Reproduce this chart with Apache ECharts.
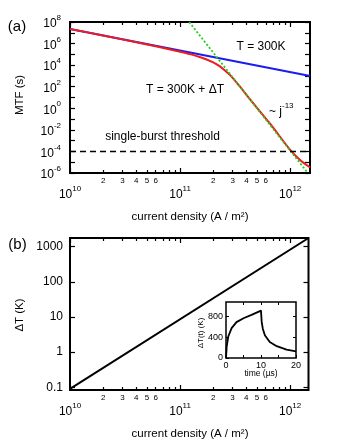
<!DOCTYPE html>
<html>
<head>
<meta charset="utf-8">
<script src="https://cdn.jsdelivr.net/npm/echarts@6/dist/echarts.min.js"></script>
<style>
html, body { margin: 0; padding: 0; background: #fff; }
#chart { width: 345px; height: 445px; }
</style>
</head>
<body>
<div id="chart"></div>
<script>
// (a) MTF vs current density
const jBlue = [1e10, 1.52e12];
const mtfBlue = [2.29e7, 1.0e3];

const jRed = [1e10, 2e10, 4e10, 6.3e10, 1e11, 1.26e11, 1.58e11, 2e11, 2.3e11, 2.55e11, 2.85e11, 3.5e11, 4.3e11, 6.6e11, 1e12, 1.23e12, 1.52e12];
const mtfRed = [2.29e7, 5.6e6, 1.32e6, 5.0e5, 1.78e5, 1.0e5, 4.8e4, 1.8e4, 7.6e3, 3.2e3, 1.2e3, 1.0e2, 7.1, 3.5e-2, 1.4e-4, 1.6e-5, 3.2e-6];

const jGreen = [1.21e11, 1.445e12];
const mtfGreen = [1e8, 1e-6];

const jThreshold = [1e10, 1.52e12];
const mtfThreshold = [1e-4, 1e-4];

// (b) temperature rise vs current density
const jDT = [1e10, 1.47e12];
const dT = [0.09, 1770];

// inset: temperature during a 10 us pulse
const tInset = [0, 0.2, 0.65, 1.6, 3, 5, 7.3, 10, 10.05, 10.2, 10.5, 11.1, 12.5, 14.5, 17.3, 20];
const dTInset = [0, 220, 410, 570, 685, 760, 825, 905, 850, 690, 565, 435, 305, 225, 160, 128];

// tick labels
const xDecades = [10, 11, 12];
const minorSteps = [2, 3, 4, 5, 6, 7, 8, 9];
const minorLabelled = [2, 3, 4, 5, 6];
const mtfDecades = [-6, -5, -4, -3, -2, -1, 0, 1, 2, 3, 4, 5, 6, 7, 8];
const mtfLabelled = [-6, -4, -2, 0, 2, 4, 6, 8];
const dTLabels = ['0.1', '1', '10', '100', '1000'];
const insetTimeLabels = [0, 10, 20];

const FONT = '"Liberation Sans", Arial, Helvetica, sans-serif';
const lg = Math.log10;

function pairs(xs, ys, fx, fy) {
    return xs.map(function (x, i) { return [fx(x), fy(ys[i])]; });
}
const same = function (v) { return v; };

const minorTicks = [];
const minorLabels = [];
[1e10, 1e11].forEach(function (d) {
    minorSteps.forEach(function (m) { minorTicks.push(lg(m * d)); });
    minorLabelled.forEach(function (m) { minorLabels.push(lg(m * d)); });
});

const rich10 = {
    b: { fontSize: 12, fontFamily: FONT, color: '#000', lineHeight: 16, verticalAlign: 'bottom' },
    s: { fontSize: 8, fontFamily: FONT, color: '#000', lineHeight: 16, verticalAlign: 'top' }
};
function pow10(v) {
    return '{b|10}{s|' + Math.round(v) + '}';
}

const noLine = { show: false, onZero: false };

function xAxesFor(grid, max) {
    return [{
        gridIndex: grid, type: 'value', min: 10, max: max, position: 'bottom',
        axisLine: noLine, splitLine: { show: false },
        axisTick: { inside: true, length: 5, customValues: xDecades, lineStyle: { color: '#000', width: 1.2 } },
        axisLabel: { customValues: xDecades, margin: 12, formatter: pow10, rich: rich10 }
    }, {
        gridIndex: grid, type: 'value', min: 10, max: max, position: 'bottom',
        axisLine: noLine, splitLine: { show: false },
        axisTick: { inside: true, length: 3, customValues: minorTicks, lineStyle: { color: '#000', width: 1.2 } },
        axisLabel: {
            customValues: minorLabels, margin: 4, fontSize: 8, fontFamily: FONT, color: '#000',
            formatter: function (v) { return String(Math.round(Math.pow(10, v - Math.floor(v + 1e-9)))); }
        }
    }, {
        gridIndex: grid, type: 'value', min: 10, max: max, position: 'top',
        axisLine: noLine, splitLine: { show: false }, axisLabel: { show: false },
        axisTick: { inside: true, length: 5, customValues: xDecades, lineStyle: { color: '#000', width: 1.2 } }
    }, {
        gridIndex: grid, type: 'value', min: 10, max: max, position: 'top',
        axisLine: noLine, splitLine: { show: false }, axisLabel: { show: false },
        axisTick: { inside: true, length: 3, customValues: minorTicks, lineStyle: { color: '#000', width: 1.2 } }
    }];
}

const chart = echarts.init(document.getElementById('chart'), null, { renderer: 'canvas' });

const option = {
    animation: false,
    backgroundColor: '#fff',
    grid: [
        { left: 70, top: 22, width: 240, height: 151, show: true, borderColor: '#000', borderWidth: 2 },
        { left: 70, top: 238, width: 238.5, height: 152, show: true, borderColor: '#000', borderWidth: 2 },
        { left: 226, top: 302, width: 70, height: 56, show: true, borderColor: '#000', borderWidth: 1.5, backgroundColor: '#fff' }
    ],
    xAxis: xAxesFor(0, 12.18).concat(xAxesFor(1, 12.167)).concat([{
        gridIndex: 2, type: 'value', min: 0, max: 20, position: 'bottom',
        axisLine: noLine, splitLine: { show: false },
        axisTick: { inside: true, length: 3, customValues: [0, 5, 10, 15, 20], lineStyle: { color: '#000' } },
        axisLabel: { customValues: insetTimeLabels, margin: 3, fontSize: 9, fontFamily: FONT, color: '#000' }
    }, {
        gridIndex: 2, type: 'value', min: 0, max: 20, position: 'top',
        axisLine: noLine, splitLine: { show: false }, axisLabel: { show: false },
        axisTick: { inside: true, length: 3, customValues: [5, 10, 15], lineStyle: { color: '#000' } }
    }]),
    yAxis: [{
        gridIndex: 0, type: 'value', min: -6, max: 8, position: 'left',
        axisLine: noLine, splitLine: { show: false },
        axisTick: { inside: true, length: 5, customValues: mtfDecades, lineStyle: { color: '#000', width: 1.2 } },
        axisLabel: { customValues: mtfLabelled, margin: 9, formatter: pow10, rich: rich10 }
    }, {
        gridIndex: 0, type: 'value', min: -6, max: 8, position: 'right',
        axisLine: noLine, splitLine: { show: false }, axisLabel: { show: false },
        axisTick: { inside: true, length: 5, customValues: mtfDecades, lineStyle: { color: '#000', width: 1.2 } }
    }, {
        gridIndex: 1, type: 'value', min: lg(0.084), max: lg(1770), position: 'left',
        axisLine: noLine, splitLine: { show: false },
        axisTick: { inside: true, length: 5, customValues: [-1, 0, 1, 2, 3], lineStyle: { color: '#000', width: 1.2 } },
        axisLabel: {
            customValues: [-1, 0, 1, 2, 3], margin: 7, fontSize: 12, fontFamily: FONT, color: '#000',
            formatter: function (v) { return dTLabels[Math.round(v) + 1]; }
        }
    }, {
        gridIndex: 1, type: 'value', min: lg(0.084), max: lg(1770), position: 'right',
        axisLine: noLine, splitLine: { show: false }, axisLabel: { show: false },
        axisTick: { inside: true, length: 5, customValues: [-1, 0, 1, 2, 3], lineStyle: { color: '#000', width: 1.2 } }
    }, {
        gridIndex: 2, type: 'value', min: 0, max: 1070, position: 'left',
        axisLine: noLine, splitLine: { show: false },
        axisTick: { inside: true, length: 3, customValues: [0, 400, 800], lineStyle: { color: '#000' } },
        axisLabel: { customValues: [0, 400, 800], margin: 3, fontSize: 9, fontFamily: FONT, color: '#000' }
    }, {
        gridIndex: 2, type: 'value', min: 0, max: 1070, position: 'right',
        axisLine: noLine, splitLine: { show: false }, axisLabel: { show: false },
        axisTick: { inside: true, length: 3, customValues: [400, 800], lineStyle: { color: '#000' } }
    }],
    series: [{
        name: 'T = 300K', type: 'line', xAxisIndex: 0, yAxisIndex: 0, symbol: 'none',
        lineStyle: { color: '#1c1cf0', width: 2 },
        data: pairs(jBlue, mtfBlue, lg, lg)
    }, {
        name: 'T = 300K + dT', type: 'line', xAxisIndex: 0, yAxisIndex: 0, symbol: 'none', smooth: 0.3,
        lineStyle: { color: '#ee1c1c', width: 2 },
        data: pairs(jRed, mtfRed, lg, lg)
    }, {
        name: 'j^-13', type: 'line', xAxisIndex: 0, yAxisIndex: 0, symbol: 'none',
        lineStyle: { color: '#22cc22', width: 1.8, type: [2, 2] },
        data: pairs(jGreen, mtfGreen, lg, lg)
    }, {
        name: 'threshold', type: 'line', xAxisIndex: 0, yAxisIndex: 0, symbol: 'none',
        lineStyle: { color: '#000', width: 1.5, type: [6, 4] },
        data: pairs(jThreshold, mtfThreshold, lg, lg)
    }, {
        name: 'dT', type: 'line', xAxisIndex: 4, yAxisIndex: 2, symbol: 'none',
        lineStyle: { color: '#000', width: 2 },
        data: pairs(jDT, dT, lg, lg)
    }, {
        name: 'dT(t)', type: 'line', xAxisIndex: 8, yAxisIndex: 4, symbol: 'none',
        lineStyle: { color: '#000', width: 1.8 },
        data: pairs(tInset, dTInset, same, same)
    }],
    graphic: [
        { type: 'text', x: 17, y: 27, style: { text: '(a)', fontSize: 15, fontFamily: FONT, fill: '#000', align: 'center', verticalAlign: 'middle' } },
        { type: 'text', x: 20, y: 95, rotation: Math.PI / 2, style: { text: 'MTF (s)', fontSize: 11.5, fontFamily: FONT, fill: '#000', align: 'center', verticalAlign: 'middle' } },
        { type: 'text', x: 261, y: 47, style: { text: 'T = 300K', fontSize: 12, fontFamily: FONT, fill: '#000', align: 'center', verticalAlign: 'middle' } },
        { type: 'text', x: 185, y: 90, style: { text: 'T = 300K + \u0394T', fontSize: 12, fontFamily: FONT, fill: '#000', align: 'center', verticalAlign: 'middle' } },
        { type: 'text', x: 269, y: 110, style: {
            text: '{m|~ j}{s|-13}', align: 'left', verticalAlign: 'middle',
            rich: {
                m: { fontSize: 12, fontFamily: FONT, fill: '#000', lineHeight: 16, verticalAlign: 'bottom' },
                s: { fontSize: 8, fontFamily: FONT, fill: '#000', lineHeight: 16, verticalAlign: 'top' }
            }
        } },
        { type: 'text', x: 162.5, y: 137, style: { text: 'single-burst threshold', fontSize: 12, fontFamily: FONT, fill: '#000', align: 'center', verticalAlign: 'middle' } },
        { type: 'text', x: 190, y: 217, style: { text: 'current density (A / m\u00b2)', fontSize: 11.5, fontFamily: FONT, fill: '#000', align: 'center', verticalAlign: 'middle' } },
        { type: 'text', x: 17.5, y: 245, style: { text: '(b)', fontSize: 15, fontFamily: FONT, fill: '#000', align: 'center', verticalAlign: 'middle' } },
        { type: 'text', x: 20, y: 315, rotation: Math.PI / 2, style: { text: '\u0394T (K)', fontSize: 11.5, fontFamily: FONT, fill: '#000', align: 'center', verticalAlign: 'middle' } },
        { type: 'text', x: 190, y: 434, style: { text: 'current density (A / m\u00b2)', fontSize: 11.5, fontFamily: FONT, fill: '#000', align: 'center', verticalAlign: 'middle' } },
        { type: 'text', x: 261, y: 374, style: { text: 'time (\u00b5s)', fontSize: 8.5, fontFamily: FONT, fill: '#000', align: 'center', verticalAlign: 'middle' } },
        { type: 'text', x: 201, y: 333, rotation: Math.PI / 2, style: { text: '\u0394T(t) (K)', fontSize: 8, fontFamily: FONT, fill: '#000', align: 'center', verticalAlign: 'middle' } }
    ]
};

chart.setOption(option);
</script>
</body>
</html>
